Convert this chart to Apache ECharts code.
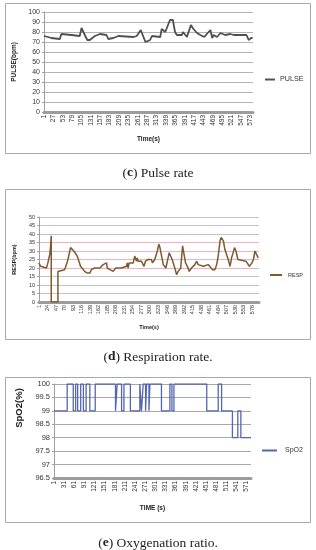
<!DOCTYPE html>
<html><head><meta charset="utf-8">
<script src="https://cdn.jsdelivr.net/npm/echarts@6/dist/echarts.min.js"></script>
<style>html,body{margin:0;padding:0;background:#fff}#c{width:316px;height:550px}</style>
</head><body><div id="c"></div>
<script>
// ---- (c) Pulse rate ----
const pulseCount = 580;
const pulseTime = [1,12,21,26,45,47,49,77,100,103,105,109,114,121,128,142,147,156,160,174,179,193,198,207,211,249,253,258,262,269,273,282,286,295,300,323,327,337,341,350,355,358,364,369,383,386,390,397,401,408,415,425,434,439,445,452,462,467,471,480,490,494,503,508,517,527,550,554,562,568,575,579];
const pulseValue = [76,75,74,73,73,72,78,77,76,75,84,84,77,72,72,76,74,78,78,77,73,74,76,76,75,75,74,76,74,82,82,70,69,72,76,75,83,80,79,92,93,92,80,77,77,80,79,75,75,87,83,79,77,78,75,78,82,74,77,75,79,79,77,76,78,77,77,79,77,72,74,74];

// ---- (d) Respiration rate ----
const respCount = 594;
const respTime = [1,5,7,21,25,27,30,32,34,34,52,52,54,70,75,79,82,86,91,95,100,104,109,113,118,124,131,138,142,151,165,167,169,174,178,183,185,192,196,201,204,208,223,228,237,239,241,244,255,259,264,266,268,277,284,288,295,304,307,311,313,320,324,327,331,336,343,347,352,356,360,367,372,376,381,383,388,392,396,401,406,412,421,426,430,435,444,448,457,462,469,475,480,484,489,492,496,498,502,505,511,516,520,523,528,532,537,541,559,563,568,572,575,579,583,588,592];
const respValue = [23,21,20,20,23,25,28,32,39,0,0,18,19,19,22,25,26,32,31,30,31,27,26,21,20,18,17,17,19,20,20,19,20,22,23,23,20,19,18,18,17,20,20,20,21,23,20,23,23,27,24,26,24,24,21,24,25,25,23,22,25,30,34,32,32,22,20,21,29,28,25,20,16,18,17,20,33,28,23,21,18,20,22,24,22,21,21,22,22,21,19,19,22,27,36,38,38,36,31,30,25,21,26,28,32,30,25,24,24,23,21,20,23,25,30,29,26];

// ---- (e) Oxygenation ratio (value holds until next change) ----
const spo2Count = 584;
const spo2Time = [1,40,58,65,71,80,88,96,107,123,183,188,201,208,227,255,260,265,272,275,282,285,319,344,350,356,453,487,497,529,545,554,584];
const spo2Value = [99,100,99,100,99,100,99,100,99,100,99,100,99,100,99,100,99,100,99,100,99,100,99,100,99,100,99,100,99,98,99,98,98];

const pulseTicks = [0,100,10];
const respTicks = [0,50,5];
const spo2Ticks = [96.5,100,0.5];

function cats(n){ const a=[]; for(let i=1;i<=n;i++) a.push(String(i)); return a; }
function pairs(t,v){ return t.map((x,i)=>[String(x), v[i]]); }

const FONT = 'Liberation Sans';
function xAx(g, n, step, name, fs, gap){
  return {type:'category', gridIndex:g, data:cats(n), boundaryGap:false,
    axisLine:{lineStyle:{color:'#9c9c9c', width:3}},
    axisTick:{show:true, interval:step-1, length:2, lineStyle:{color:'#999'}},
    axisLabel:{interval:step-1, rotate:90, fontSize:fs, color:'#333', margin:3, fontFamily:FONT},
    name:name, nameLocation:'middle', nameGap:gap,
    nameTextStyle:{fontWeight:'bold', fontSize:fs, color:'#222', fontFamily:FONT}};
}
function yAx(g, tk, name, fs, nfs, gap, grid, pad){
  return {type:'value', gridIndex:g, min:tk[0], max:tk[1], interval:tk[2],
    axisLine:{show:true, lineStyle:{color:'#a0a0a0', width:1}},
    axisTick:{show:true, length:2, lineStyle:{color:'#a0a0a0'}},
    axisLabel:{fontSize:fs, color:'#333', margin:4, fontFamily:FONT},
    splitLine:{show:true, lineStyle:{color:grid, width:1}},
    name:name, nameLocation:'middle', nameGap:gap,
    nameTextStyle:{fontWeight:'bold', fontSize:nfs, color:'#222', fontFamily:FONT, padding:pad}};
}
function cap(letter, rest, top){
  return {text:'{n|(}{b|'+letter+'}{n|) '+rest+'}', left:'center', top:top,
    textStyle:{fontWeight:'normal', rich:{
      n:{fontFamily:'Liberation Serif', fontSize:13.5, fontWeight:'normal', color:'#222'},
      b:{fontFamily:'Liberation Serif', fontSize:13.5, fontWeight:'bold', color:'#222'}}}};
}
function leg(name, left, top, fs, w, pl){
  return {data:[name], left:left, top:top, icon:'rect', itemWidth:w, itemHeight:2, itemGap:4,
    textStyle:{fontSize:fs, color:'#333', fontFamily:FONT, padding:[0,0,0,pl]}, selectedMode:false};
}

const chart = echarts.init(document.getElementById('c'), null, {renderer:'canvas'});
chart.setOption({
  animation:false,
  backgroundColor:'#fff',
  title:[cap('c','Pulse rate',161), cap('d','Respiration rate.',345), cap('e','Oxygenation ratio.',531)],
  legend:[leg('PULSE',260,71,7.2,10,0), leg('RESP',265,267,5.5,12,1), leg('SpO2',257,442,7,15,3)],
  graphic:[
    {type:'rect', shape:{x:5.5,y:3.5,width:305,height:150}, style:{fill:'none', stroke:'#a8a8a8', lineWidth:1}},
    {type:'rect', shape:{x:5.5,y:189.5,width:305,height:150}, style:{fill:'none', stroke:'#a8a8a8', lineWidth:1}},
    {type:'rect', shape:{x:5.5,y:377.5,width:305,height:145}, style:{fill:'none', stroke:'#a8a8a8', lineWidth:1}}
  ],
  grid:[
    {left:44, right:63, top:12, height:100},
    {left:39, right:57, top:217, height:85},
    {left:54, right:65, top:384, height:94}
  ],
  xAxis:[
    xAx(0, pulseCount, 26, 'Time(s)', 6.5, 24),
    xAx(1, respCount, 23, 'Time(s)', 5.5, 22),
    xAx(2, spo2Count, 30, 'TIME (s)', 6.5, 27)
  ],
  yAxis:[
    yAx(0, pulseTicks, 'PULSE(bpm)', 7, 6.5, 21, '#b4b4b4', 0),
    yAx(1, respTicks, 'RESP(bpm)', 5.5, 5.5, 18, ['#c4c4c4','#c4c4c4','#c4c4c4','#c4c4c4','#eab4c0','#eab4c0','#eab4c0','#eab4c0','#c4c4c4','#c4c4c4','#c4c4c4'], 0),
    yAx(2, spo2Ticks, 'SpO2(%)', 7.5, 9.5, 27, '#a8a8a8', [0,0,0,46])
  ],
  series:[
    {name:'PULSE', type:'line', xAxisIndex:0, yAxisIndex:0, data:pairs(pulseTime,pulseValue), showSymbol:false,
      lineStyle:{color:'#505050', width:1.8}, itemStyle:{color:'#505050'}},
    {name:'RESP', type:'line', xAxisIndex:1, yAxisIndex:1, data:pairs(respTime,respValue), showSymbol:false,
      lineStyle:{color:'#7d5a30', width:1.5}, itemStyle:{color:'#7d5a30'}},
    {name:'SpO2', type:'line', xAxisIndex:2, yAxisIndex:2, step:'end', data:pairs(spo2Time,spo2Value), showSymbol:false,
      lineStyle:{color:'#5565b0', width:1.3}, itemStyle:{color:'#5565b0'}}
  ]
});
</script>
</body></html>
